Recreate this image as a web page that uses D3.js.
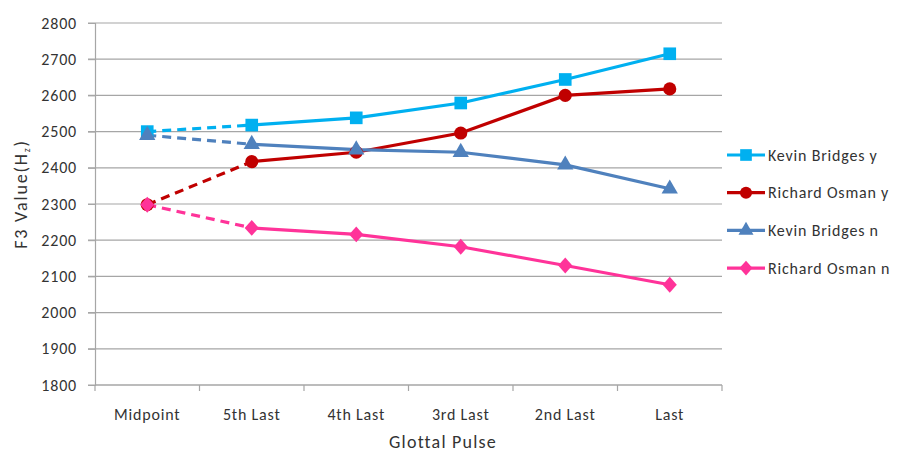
<!DOCTYPE html>
<html>
<head>
<meta charset="utf-8">
<script src="https://cdn.jsdelivr.net/npm/d3@7"></script>
<style>
  html, body { margin: 0; padding: 0; background: #fff; }
  svg text { font-family: Calibri, Carlito, "Liberation Sans Narrow", "Open Sans", Arial, sans-serif; fill: #333333; }
</style>
</head>
<body>
<svg id="chart" width="898" height="452"></svg>
<script>
// Glottal pulse positions along the x axis
const categories = ["Midpoint", "5th Last", "4th Last", "3rd Last", "2nd Last", "Last"];
const yTicks = [1800, 1900, 2000, 2100, 2200, 2300, 2400, 2500, 2600, 2700, 2800];

// F3 values (Hz) per speaker / condition
const kevinY   = [2500, 2518, 2538, 2579, 2644, 2715];
const richardY = [2298, 2417, 2443, 2496, 2600, 2618];
const kevinN   = [2490, 2465, 2450, 2443, 2408, 2342];
const richardN = [2298, 2234, 2216, 2182, 2130, 2077];

const seriesNames  = ["Kevin Bridges y", "Richard Osman y", "Kevin Bridges n", "Richard Osman n"];
const seriesColors = ["#00B0F0", "#C00000", "#4F81BD", "#FF3399"];

// Wide rhombus marker
const rhombus = {
  draw(ctx, size) {
    const w = Math.sqrt(size / 2), h = w * 1.12;
    ctx.moveTo(0, -h); ctx.lineTo(w, 0); ctx.lineTo(0, h); ctx.lineTo(-w, 0); ctx.closePath();
  }
};
const seriesSymbols = [d3.symbolSquare, d3.symbolCircle, d3.symbolTriangle, rhombus];
const seriesSizes = [160, 135, 115, 100];

const series = [kevinY, richardY, kevinN, richardN].map((values, i) => ({
  name: seriesNames[i], color: seriesColors[i], symbol: seriesSymbols[i], size: seriesSizes[i], values
}));

const svg = d3.select("#chart");
const plotLeft = 95, plotRight = 722, plotTop = 23, plotBottom = 385;
const labelStyle = { size: 16, spacing: "0.8px" };

const x = d3.scaleBand().domain(categories).range([plotLeft, plotRight]);
const y = d3.scaleLinear().domain([1800, 2800]).range([plotBottom, plotTop]);
const cx = c => x(c) + x.bandwidth() / 2;

// Horizontal gridlines
svg.append("g").selectAll("line").data(yTicks).join("line")
  .attr("x1", plotLeft - 7).attr("x2", plotRight)
  .attr("y1", d => y(d)).attr("y2", d => y(d))
  .attr("stroke", "#A6A6A6").attr("stroke-width", 1.2);

// Y axis
const yAxis = svg.append("g").attr("transform", `translate(${plotLeft},0)`)
  .call(d3.axisLeft(y).tickValues(yTicks).tickSize(7).tickPadding(11).tickFormat(d3.format("d")));
yAxis.select(".domain").attr("stroke", "#A6A6A6").attr("stroke-width", 1.2);
yAxis.selectAll(".tick line").attr("stroke", "#A6A6A6");
yAxis.selectAll(".tick text").attr("font-size", labelStyle.size)
  .style("letter-spacing", labelStyle.spacing).style("fill", "#333333");

// X axis with tick marks at band boundaries
const xAxisG = svg.append("g").attr("transform", `translate(0,${plotBottom})`);
xAxisG.append("line").attr("x1", plotLeft).attr("x2", plotRight).attr("stroke", "#A6A6A6").attr("stroke-width", 1.2);
const bounds = categories.map(c => x(c)).concat([plotRight]);
xAxisG.selectAll("line.tk").data(bounds).join("line").attr("class", "tk")
  .attr("x1", d => d).attr("x2", d => d).attr("y1", 0).attr("y2", 6)
  .attr("stroke", "#A6A6A6").attr("stroke-width", 1.2);
xAxisG.selectAll("text").data(categories).join("text")
  .attr("x", d => cx(d)).attr("y", 35).attr("text-anchor", "middle")
  .attr("font-size", labelStyle.size).style("letter-spacing", labelStyle.spacing).text(d => d);

// Axis titles
svg.append("text").attr("x", 443).attr("y", 448).attr("text-anchor", "middle")
  .attr("font-size", 18).style("letter-spacing", "1.2px").text("Glottal Pulse");
const yTitle = svg.append("text").attr("transform", "translate(27,194) rotate(-90)")
  .attr("text-anchor", "middle").attr("font-size", 18).style("letter-spacing", "1.8px");
yTitle.append("tspan").text("F3 Value(H");
yTitle.append("tspan").attr("font-size", 10).attr("dy", 3).text("z");
yTitle.append("tspan").attr("dy", -3).text(")");

// Lines: first segment dashed, the rest solid
const line = d3.line().x(d => cx(d.c)).y(d => y(d.v));
const plot = svg.append("g");
series.forEach(s => {
  const pts = s.values.map((v, i) => ({ c: categories[i], v }));
  plot.append("path").datum(pts.slice(0, 2)).attr("d", line)
    .attr("fill", "none").attr("stroke", s.color).attr("stroke-width", 3.2)
    .attr("stroke-dasharray", "9,6");
  plot.append("path").datum(pts.slice(1)).attr("d", line)
    .attr("fill", "none").attr("stroke", s.color).attr("stroke-width", 3.2);
});
series.forEach(s => {
  plot.append("g").selectAll("path").data(s.values).join("path")
    .attr("transform", (v, i) => `translate(${cx(categories[i])},${y(v)})`)
    .attr("d", d3.symbol().type(s.symbol).size(s.size))
    .attr("fill", s.color);
});

// Legend
const legend = svg.append("g").attr("transform", "translate(727,155)");
series.forEach((s, i) => {
  const g = legend.append("g").attr("transform", `translate(0,${i * 37.7})`);
  g.append("line").attr("x1", 0).attr("x2", 38).attr("stroke", s.color).attr("stroke-width", 3.2);
  g.append("path").attr("transform", "translate(19,0)")
    .attr("d", d3.symbol().type(s.symbol).size(s.size * 0.85)).attr("fill", s.color);
  g.append("text").attr("x", 41).attr("y", 5.5).attr("font-size", labelStyle.size)
    .style("letter-spacing", labelStyle.spacing).text(s.name);
});
</script>
</body>
</html>
